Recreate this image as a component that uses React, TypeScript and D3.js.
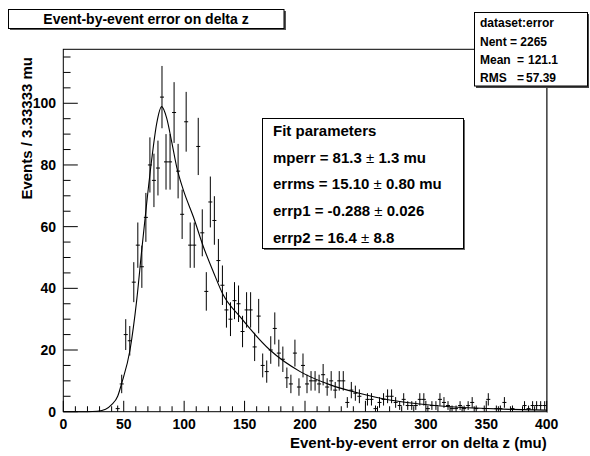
import React from "react";
import * as d3 from "d3";

// ---------- data ----------
const BIN_LOW = 0;
const BIN_HIGH = 400;
const BIN_COUNTS: number[] = [
  0, 0, 0, 0, 0, 0, 0, 0, 0, 0,
  0, 0, 0, 1, 9, 25, 23, 42, 54, 47,
  63, 80, 75, 79, 102, 81, 81, 97, 78, 64,
  94, 54, 54, 86, 58, 39, 68, 62, 49, 41,
  33, 30, 36, 35, 26, 33, 33, 21, 31, 15,
  13, 20, 27, 19, 17, 11, 9, 19, 8, 15,
  9, 10, 10, 9, 12, 8, 10, 7, 10, 10,
  3, 7, 6, 5, 0, 4, 4, 1, 3, 4,
  5, 5, 3, 2, 4, 2, 2, 2, 4, 4,
  1, 2, 2, 4, 3, 2, 1, 1, 2, 1,
  2, 3, 1, 0, 1, 4, 0, 1, 1, 3,
  0, 1, 0, 0, 2, 1, 2, 2, 2, 2,
];

const FIT_X: number[] = [0, 20, 28, 35, 40, 45, 48.3, 55.2, 60.7, 64.9, 69, 73.1, 77.3, 81.4, 85.6, 89.7, 93.8, 99.3, 107.6, 115.9, 124.1, 132.4, 146.2, 171, 196, 221, 245, 270, 295, 320, 345, 370, 400];
const FIT_Y: number[] = [0, 0, 0.15, 0.8, 2.3, 5, 9.2, 20, 36, 52.4, 67.6, 81.6, 93.5, 98.9, 95.1, 87.5, 79.4, 71.9, 63.2, 53.5, 45.4, 37.8, 30.8, 20, 13, 8.7, 6, 3.8, 2.5, 1.6, 1.1, 0.75, 0.5];

const X_MAJOR_TICKS = [0, 50, 100, 150, 200, 250, 300, 350, 400];
const X_TICK_LABELS = ["0", "50", "100", "150", "200", "250", "300", "350", "400"];
const Y_MAJOR_TICKS = [0, 20, 40, 60, 80, 100];
const Y_TICK_LABELS = ["0", "20", "40", "60", "80", "100"];
const Y_MAX = 117.5;

const TITLE = "Event-by-event error on delta z";
const X_TITLE = "Event-by-event error on delta z (mu)";
const Y_TITLE = "Events / 3.33333 mu";

const STATS_NAME = "dataset:error";
const STATS_LABELS = ["Nent", "Mean", "RMS"];
const STATS_VALUES = ["2265", "121.1", "57.39"];

const FIT_HEADER = "Fit parameters";
const FIT_NAMES = ["mperr", "errms", "errp1", "errp2"];
const FIT_VALUES = ["81.3", "15.10", "-0.288", "16.4"];
const FIT_ERRORS = ["1.3 mu", "0.80 mu", "0.026", "8.8"];

// ---------- layout ----------
const W = 590;
const H = 456;
const FL = 63.3, FR = 546.7, FT = 49.3, FB = 411.7;
const FONT = "'Liberation Sans', Arial, Helvetica, sans-serif";

export default function App() {
  const x = d3.scaleLinear().domain([BIN_LOW, BIN_HIGH]).range([FL, FR]);
  const y = d3.scaleLinear().domain([0, Y_MAX]).range([FB, FT]);
  const bw = (BIN_HIGH - BIN_LOW) / BIN_COUNTS.length;

  const xMinor = d3.range(0, 401, 10).filter((v) => v % 50 !== 0);
  const yMinor = d3.range(0, Y_MAX, 5).filter((v) => v % 20 !== 0);

  const fitPts: [number, number][] = FIT_X.map((v, i) => [v, FIT_Y[i]]);
  const fitLine = d3
    .line<[number, number]>()
    .x((d) => x(d[0]))
    .y((d) => y(d[1]))
    .curve(d3.curveMonotoneX)(fitPts) as string;

  const xTickLen = 10.9;
  const yTickLen = 14.5;

  return (
    <svg
      width={W}
      height={H}
      style={{ position: "absolute", left: 0, top: 0, background: "#fff" }}
      fontFamily={FONT}
      fontWeight="bold"
    >
      <rect x={0} y={0} width={W} height={H} fill="#fff" />

      {/* frame */}
      <rect x={FL} y={FT} width={FR - FL} height={FB - FT} fill="none" stroke="#000" strokeWidth={1} />
      <line x1={FR + 0.5} x2={FR + 0.5} y1={FT} y2={FB + 1} stroke="#777" strokeWidth={1.2} />

      {/* x ticks */}
      {X_MAJOR_TICKS.map((v) => (
        <line key={"xm" + v} x1={x(v)} x2={x(v)} y1={FB} y2={FB - xTickLen} stroke="#000" strokeWidth={1} />
      ))}
      {xMinor.map((v) => (
        <line key={"xn" + v} x1={x(v)} x2={x(v)} y1={FB} y2={FB - xTickLen / 2} stroke="#000" strokeWidth={1} />
      ))}
      {X_MAJOR_TICKS.map((v, i) => (
        <text key={"xl" + v} x={x(v)} y={429} fontSize={14} textAnchor="middle" fill="#000">
          {X_TICK_LABELS[i]}
        </text>
      ))}

      {/* y ticks */}
      {Y_MAJOR_TICKS.map((v) => (
        <line key={"ym" + v} x1={FL} x2={FL + yTickLen} y1={y(v)} y2={y(v)} stroke="#000" strokeWidth={1} />
      ))}
      {yMinor.map((v) => (
        <line key={"yn" + v} x1={FL} x2={FL + yTickLen / 2} y1={y(v)} y2={y(v)} stroke="#000" strokeWidth={1} />
      ))}
      {Y_MAJOR_TICKS.map((v, i) => (
        <text key={"yl" + v} x={56} y={y(v) + 5} fontSize={14} textAnchor="end" fill="#000">
          {Y_TICK_LABELS[i]}
        </text>
      ))}

      {/* axis titles */}
      <text x={FR} y={447.5} fontSize={15} textAnchor="end" fill="#000">
        {X_TITLE}
      </text>
      <text transform={`translate(32,57) rotate(-90)`} fontSize={15} textAnchor="end" fill="#000">
        {Y_TITLE}
      </text>

      {/* data with error bars */}
      {BIN_COUNTS.map((c, i) => {
        if (c <= 0) return null;
        const lo = BIN_LOW + i * bw;
        const cx = x(lo + bw / 2);
        const e = Math.sqrt(c);
        return (
          <g key={"b" + i} stroke="#000" strokeWidth={1}>
            <line x1={x(lo)} x2={x(lo + bw)} y1={y(c)} y2={y(c)} />
            <line x1={cx} x2={cx} y1={y(Math.max(0, c - e))} y2={y(c + e)} />
          </g>
        );
      })}

      {/* fit curve */}
      <path d={fitLine} fill="none" stroke="#000" strokeWidth={1.1} />

      {/* title box */}
      <rect x={10} y={11} width={276} height={19} fill="#555" />
      <rect x={8.5} y={9.5} width={275.5} height={19} fill="#fff" stroke="#000" strokeWidth={1} />
      <text x={146} y={24} fontSize={14} textAnchor="middle" fill="#000">
        {TITLE}
      </text>

      {/* stats box */}
      <rect x={476} y={14} width={113} height={74} fill="#444" />
      <rect x={474.5} y={12.5} width={113} height={73.5} fill="#fff" stroke="#000" strokeWidth={1} />
      <text x={480} y={27} fontSize={12} fill="#000">
        {STATS_NAME}
      </text>
      <text x={480} y={45.5} fontSize={12} fill="#000">
        {STATS_LABELS[0] + " = " + STATS_VALUES[0]}
      </text>
      <text x={480} y={64} fontSize={12} fill="#000">
        {STATS_LABELS[1]}
      </text>
      <text x={517} y={64} fontSize={12} fill="#000">=</text>
      <text x={528} y={64} fontSize={12} fill="#000">
        {STATS_VALUES[1]}
      </text>
      <text x={480} y={82} fontSize={12} fill="#000">
        {STATS_LABELS[2]}
      </text>
      <text x={517} y={82} fontSize={12} fill="#000">=</text>
      <text x={526} y={82} fontSize={12} fill="#000">
        {STATS_VALUES[2]}
      </text>

      {/* fit parameter box */}
      <rect x={264} y={120} width={201} height={130} fill="#666" />
      <rect x={262.5} y={118.5} width={201} height={130} fill="#fff" stroke="#000" strokeWidth={1} />
      <text x={273} y={135.5} fontSize={15} fill="#000">
        {FIT_HEADER}
      </text>
      {FIT_NAMES.map((n, i) => (
        <text key={"fp" + i} x={273} y={162.5 + i * 26.75} fontSize={15} fill="#000">
          {n + " = " + FIT_VALUES[i] + " "}
          <tspan fontWeight="normal">±</tspan>
          {" " + FIT_ERRORS[i]}
        </text>
      ))}
    </svg>
  );
}
